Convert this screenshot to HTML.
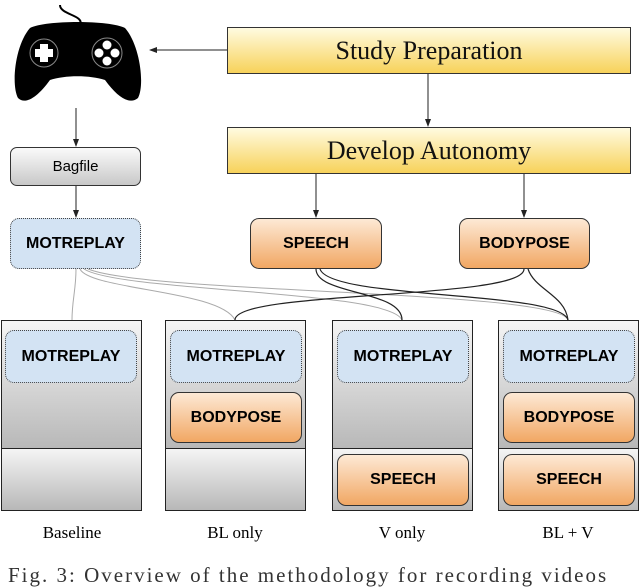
<!DOCTYPE html>
<html><head><style>
body{margin:0;width:640px;height:576px;background:#fff;overflow:hidden;position:relative;font-family:"Liberation Sans",sans-serif}
.b{position:absolute;box-sizing:border-box;display:flex;align-items:center;justify-content:center}
.y{background:linear-gradient(#fffbe0,#f7d25a);border:1px solid #333;font-family:"Liberation Serif",serif;font-size:26px;color:#111}
.o{background:linear-gradient(#fde9d5,#f1a763);border:1px solid #333;border-radius:9px;font-weight:bold;font-size:16px}
.m{background:#d3e3f3;border:1px dotted #444;border-radius:9px;font-weight:bold;font-size:16px}
.c{background:linear-gradient(#f5f5f5,#b8b8b8);border:1px solid #222}
.l{position:absolute;font-family:"Liberation Serif",serif;font-size:17px;text-align:center;width:140px}
</style></head><body>
<svg width="640" height="576" style="position:absolute;left:0;top:0">
<defs><marker id="a" markerWidth="8" markerHeight="8" refX="7" refY="4" orient="auto"><path d="M0,1L8,4L0,7z" fill="#222"/></marker></defs>
<g stroke="#222" stroke-width="1" fill="none">
<line x1="227" y1="50" x2="150" y2="50" marker-end="url(#a)"/>
<line x1="428" y1="73" x2="428" y2="126" marker-end="url(#a)"/>
<line x1="76" y1="108" x2="76" y2="146" marker-end="url(#a)"/>
<line x1="76" y1="186" x2="76" y2="217" marker-end="url(#a)"/>
<line x1="316" y1="174" x2="316" y2="217" marker-end="url(#a)"/>
<line x1="524" y1="174" x2="524" y2="217" marker-end="url(#a)"/>
</g>
<g stroke="#aaa" stroke-width="1" fill="none">
<path d="M76,269 C76,290 72,300 72,320"/>
<path d="M80,269 C90,290 220,290 235,320"/>
<path d="M84,269 C120,292 390,290 402,320"/>
<path d="M88,269 C150,294 560,290 568,320"/>
</g>
<g stroke="#222" stroke-width="1.2" fill="none">
<path d="M316,269 C316,295 402,290 402,320"/>
<path d="M320,269 C330,300 560,290 568,320"/>
<path d="M524,269 C524,300 235,290 235,320"/>
<path d="M528,269 C535,290 565,295 568,320"/>
</g>
<path d="M60,5 C60,15 85,15 80,25" stroke="#000" stroke-width="2" fill="none"/>
<path d="M30,28 C45,20 110,20 125,28 C140,45 145,85 138,98 C130,105 118,98 105,80 C90,75 65,75 50,80 C37,98 25,105 18,98 C11,85 15,45 30,28z" fill="#000"/>
<circle cx="44" cy="53" r="14" fill="none" stroke="#888"/>
<path d="M40,44h8v5h5v8h-5v5h-8v-5h-5v-8h5z" fill="#fff"/>
<circle cx="107" cy="53" r="15" fill="none" stroke="#888"/>
<circle cx="107" cy="45" r="4.5" fill="#fff"/><circle cx="107" cy="61" r="4.5" fill="#fff"/>
<circle cx="99" cy="53" r="4.5" fill="#fff"/><circle cx="115" cy="53" r="4.5" fill="#fff"/>
</svg>
<div class="b y" style="left:227px;top:27px;width:404px;height:47px">Study Preparation</div>
<div class="b y" style="left:227px;top:127px;width:404px;height:47px">Develop Autonomy</div>
<div class="b" style="left:10px;top:147px;width:131px;height:39px;border:1px solid #333;border-radius:7px;background:linear-gradient(#fafafa,#c8c8c8);font-size:15px">Bagfile</div>
<div class="b m" style="left:10px;top:218px;width:131px;height:51px">MOTREPLAY</div>
<div class="b o" style="left:250px;top:218px;width:132px;height:51px">SPEECH</div>
<div class="b o" style="left:459px;top:218px;width:131px;height:51px">BODYPOSE</div>

<div class="b c" style="left:1px;top:320px;width:141px;height:129px"></div>
<div class="b c" style="left:1px;top:448px;width:141px;height:63px"></div>
<div class="b c" style="left:165px;top:320px;width:141px;height:129px"></div>
<div class="b c" style="left:165px;top:448px;width:141px;height:63px"></div>
<div class="b c" style="left:332px;top:320px;width:141px;height:129px"></div>
<div class="b c" style="left:332px;top:448px;width:141px;height:63px"></div>
<div class="b c" style="left:498px;top:320px;width:141px;height:129px"></div>
<div class="b c" style="left:498px;top:448px;width:141px;height:63px"></div>

<div class="b m" style="left:5px;top:330px;width:132px;height:53px">MOTREPLAY</div>
<div class="b m" style="left:170px;top:330px;width:132px;height:53px">MOTREPLAY</div>
<div class="b m" style="left:337px;top:330px;width:132px;height:53px">MOTREPLAY</div>
<div class="b m" style="left:503px;top:330px;width:132px;height:53px">MOTREPLAY</div>
<div class="b o" style="left:170px;top:392px;width:132px;height:51px">BODYPOSE</div>
<div class="b o" style="left:503px;top:392px;width:132px;height:51px">BODYPOSE</div>
<div class="b o" style="left:337px;top:454px;width:132px;height:52px">SPEECH</div>
<div class="b o" style="left:503px;top:454px;width:132px;height:52px">SPEECH</div>

<div class="l" style="left:2px;top:523px">Baseline</div>
<div class="l" style="left:165px;top:523px">BL only</div>
<div class="l" style="left:332px;top:523px">V only</div>
<div class="l" style="left:498px;top:523px">BL + V</div>
<div style="position:absolute;left:8px;top:563px;font-family:'Liberation Serif',serif;font-size:21px;white-space:nowrap;letter-spacing:2px;color:#333">Fig. 3: Overview of the methodology for recording videos</div>
</body></html>
